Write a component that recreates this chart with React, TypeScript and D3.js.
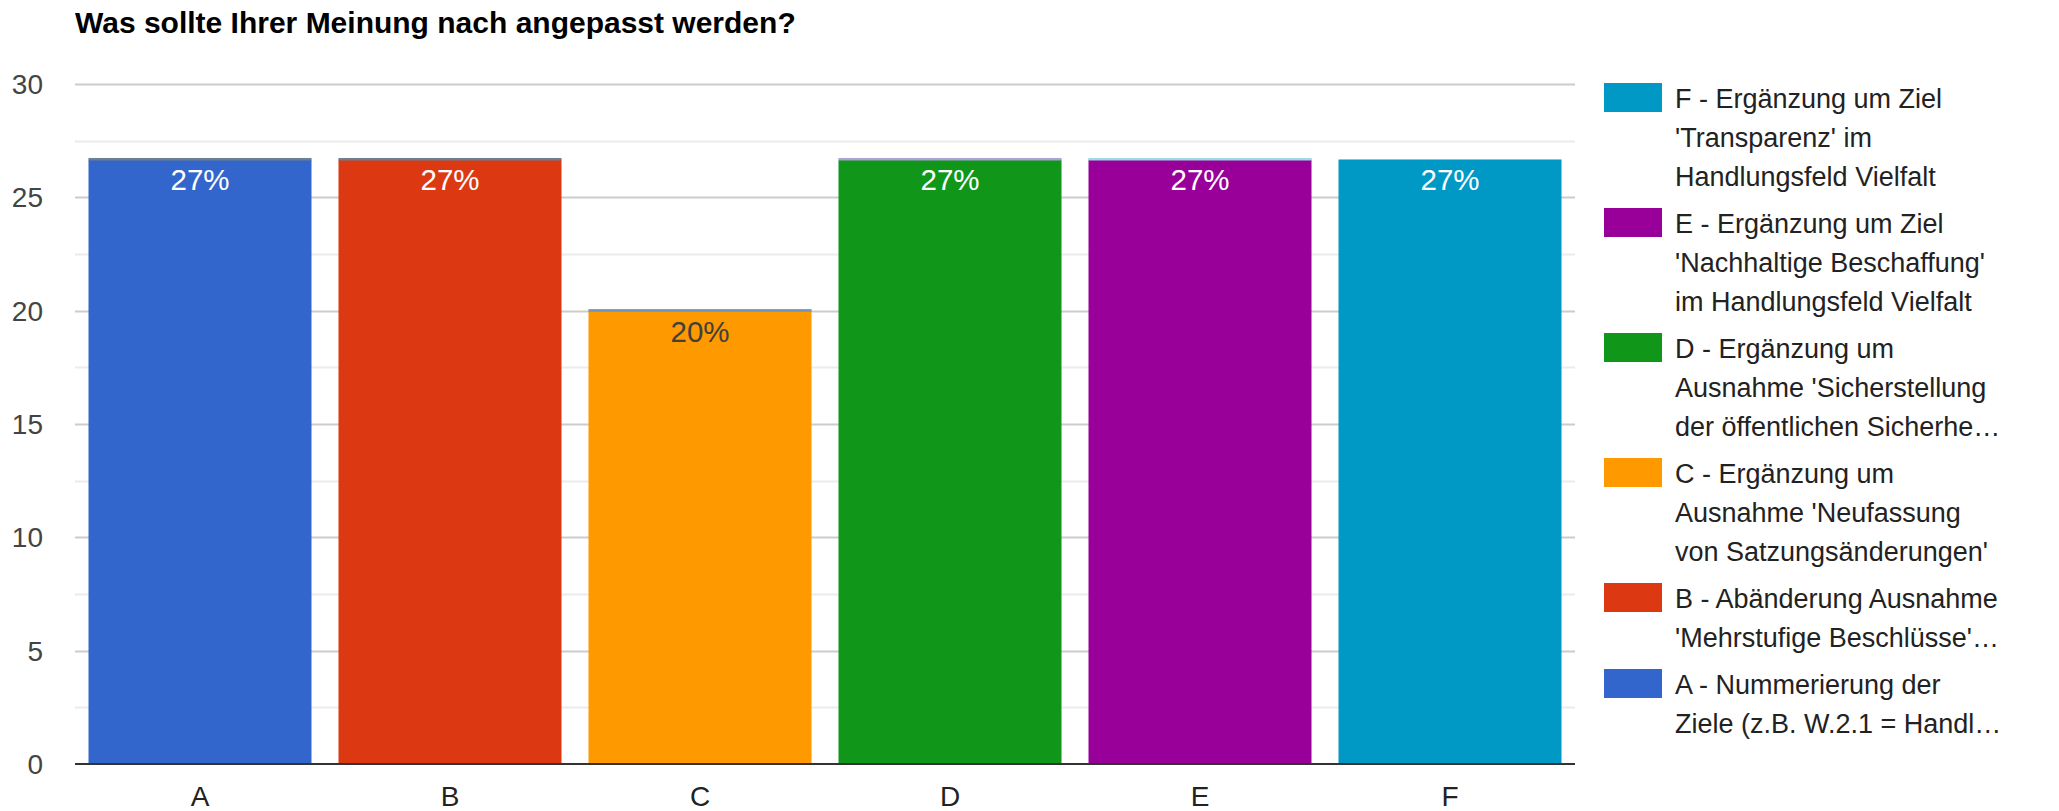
import React from "react";
import * as d3 from "d3";

const categories = ["A", "B", "C", "D", "E", "F"];
const values = [26.67, 26.67, 20, 26.67, 26.67, 26.67];
const labels = ["27%", "27%", "20%", "27%", "27%", "27%"];
const colors = ["#3366cc", "#dc3912", "#ff9900", "#109618", "#990099", "#0099c6"];
const topLineColors = ["#6f7f8f", "#6f7f8f", "#6f93b8", "#a9a3d6", "#9fd9e6", "none"];
const labelColors = ["#ffffff", "#ffffff", "#404040", "#ffffff", "#ffffff", "#ffffff"];
const yTicks = [0, 5, 10, 15, 20, 25, 30];
const yMinorTicks = [2.5, 7.5, 12.5, 17.5, 22.5, 27.5];
const title = "Was sollte Ihrer Meinung nach angepasst werden?";

const legendItems = [
  { color: "#0099c6", lines: ["F - Ergänzung um Ziel", "'Transparenz' im", "Handlungsfeld Vielfalt"] },
  { color: "#990099", lines: ["E - Ergänzung um Ziel", "'Nachhaltige Beschaffung'", "im Handlungsfeld Vielfalt"] },
  { color: "#109618", lines: ["D - Ergänzung um", "Ausnahme 'Sicherstellung", "der öffentlichen Sicherhe…"] },
  { color: "#ff9900", lines: ["C - Ergänzung um", "Ausnahme 'Neufassung", "von Satzungsänderungen'"] },
  { color: "#dc3912", lines: ["B - Abänderung Ausnahme", "'Mehrstufige Beschlüsse'…"] },
  { color: "#3366cc", lines: ["A - Nummerierung der", "Ziele (z.B. W.2.1 = Handl…"] },
];

const W = 2059;
const H = 811;
const plotLeft = 75;
const plotRight = 1575;
const plotTop = 84;
const plotBottom = 764;
const font = "Arial, 'Liberation Sans', sans-serif";

export default function App() {
  const x = d3.scaleBand<string>().domain(categories).range([plotLeft, plotRight]).paddingInner(0.108).paddingOuter(0.054);
  const y = d3.scaleLinear().domain([0, 30]).range([plotBottom, plotTop]);

  const legendX = 1604;
  const lineH = 39;
  let cursor = 83;
  const legendPos = legendItems.map((it) => {
    const top = cursor;
    cursor += it.lines.length * lineH + 8;
    return top;
  });

  return (
    <svg
      width={W}
      height={H}
      style={{ position: "absolute", left: 0, top: 0, background: "#fff" }}
      fontFamily={font}
    >
      <rect x={0} y={0} width={W} height={H} fill="#fff" />
      <text x={75} y={33} fontSize={30} fontWeight="bold" fill="#000">
        {title}
      </text>
      {yMinorTicks.map((t) => (
        <line key={"m" + t} x1={plotLeft} x2={plotRight} y1={Math.round(y(t)) + 0.5} y2={Math.round(y(t)) + 0.5} stroke="#ebebeb" strokeWidth={2} />
      ))}
      {yTicks.filter((t) => t !== 0).map((t) => (
        <line key={"g" + t} x1={plotLeft} x2={plotRight} y1={Math.round(y(t)) + 0.5} y2={Math.round(y(t)) + 0.5} stroke="#cccccc" strokeWidth={2} />
      ))}
      {yTicks.map((t) => (
        <text key={"yl" + t} x={43} y={y(t) + 10} fontSize={28} fill="#444444" textAnchor="end">
          {t}
        </text>
      ))}
      {categories.map((c, i) => {
        const bx = x(c)!;
        const bw = x.bandwidth();
        const by = y(values[i]);
        return (
          <g key={c}>
            <rect x={bx} y={by} width={bw} height={plotBottom - by} fill={colors[i]} />
            {topLineColors[i] !== "none" && (
              <rect x={bx} y={by - 1.5} width={bw} height={2.5} fill={topLineColors[i]} />
            )}
            <text x={bx + bw / 2} y={by + 31} fontSize={29.5} fill={labelColors[i]} textAnchor="middle">
              {labels[i]}
            </text>
            <text x={bx + bw / 2} y={806} fontSize={28} fill="#222222" textAnchor="middle">
              {c}
            </text>
          </g>
        );
      })}
      <line x1={plotLeft} x2={plotRight} y1={plotBottom} y2={plotBottom} stroke="#333333" strokeWidth={2} />
      {legendItems.map((it, i) => (
        <g key={"lg" + i}>
          <rect x={legendX} y={legendPos[i]} width={58} height={29} fill={it.color} />
          {it.lines.map((ln, j) => (
            <text key={j} x={1675} y={legendPos[i] + 25 + j * lineH} fontSize={27} fill="#222222">
              {ln}
            </text>
          ))}
        </g>
      ))}
    </svg>
  );
}
